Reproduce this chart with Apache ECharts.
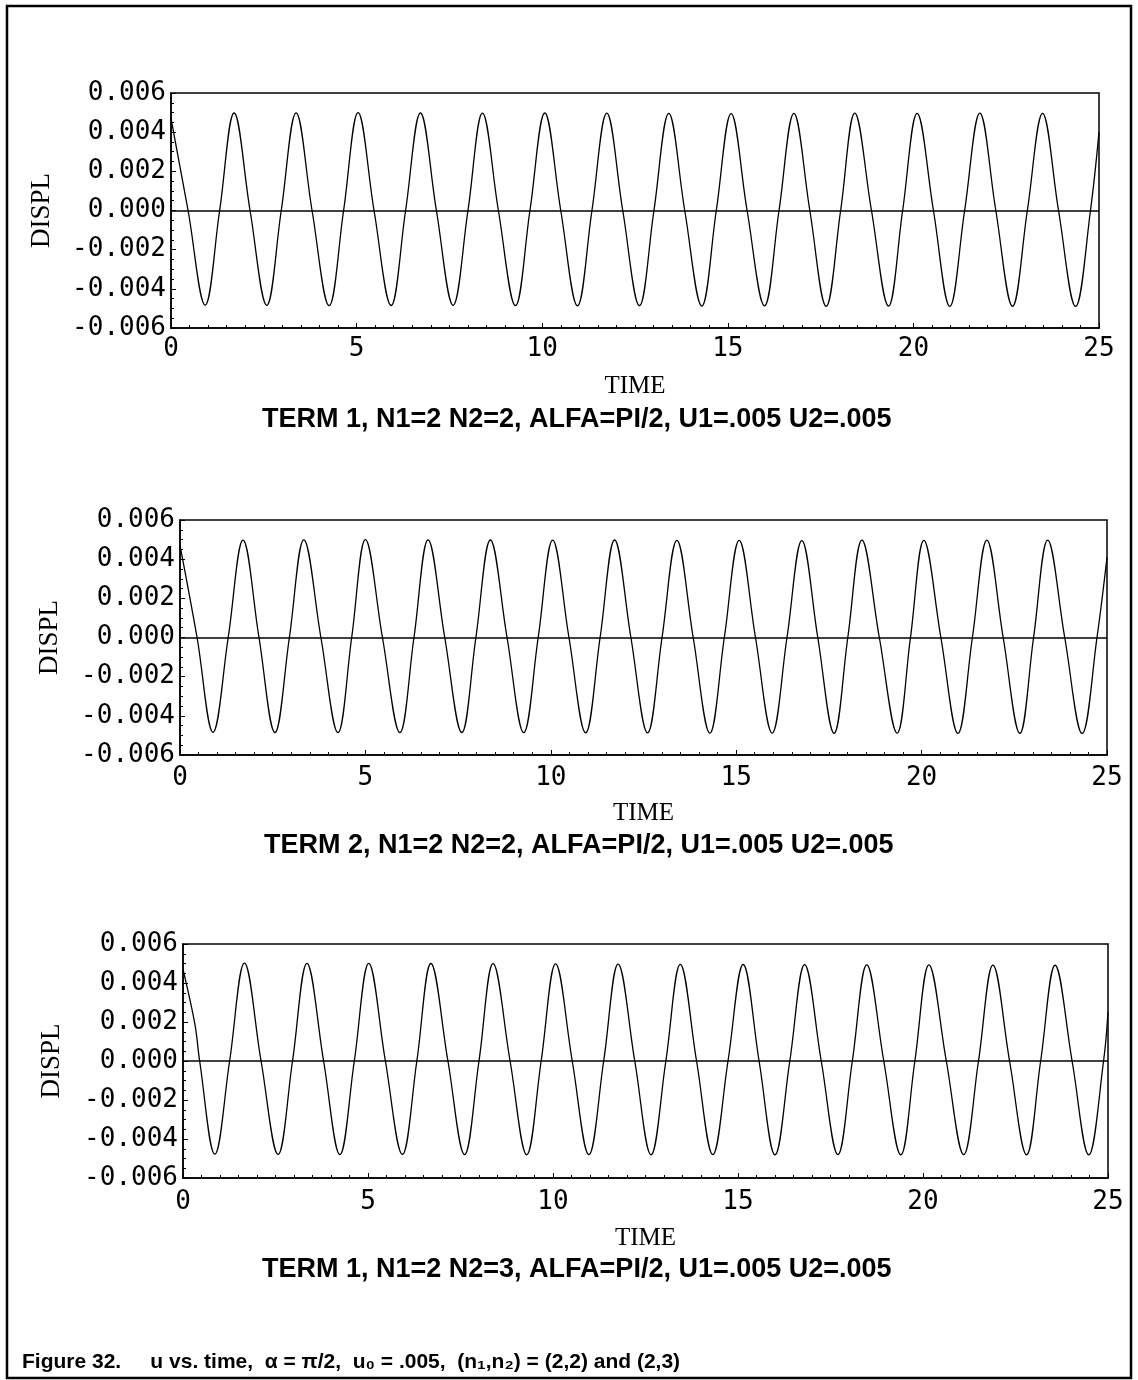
<!DOCTYPE html>
<html>
<head>
<meta charset="utf-8">
<script src="https://cdn.jsdelivr.net/npm/echarts@6/dist/echarts.min.js"></script>
<style>
  html, body { margin: 0; padding: 0; background: #fff; }
  #chart { width: 1138px; height: 1380px; }
</style>
</head>
<body>
<div id="chart"></div>
<script>
// ---------- tick labels ----------
const xTicks = [0, 5, 10, 15, 20, 25];
const yTicks = [-0.006, -0.004, -0.002, 0.000, 0.002, 0.004, 0.006];

// ---------- panel titles ----------
const panelTitles = [
  'TERM 1, N1=2 N2=2, ALFA=PI/2, U1=.005 U2=.005',
  'TERM 2, N1=2 N2=2, ALFA=PI/2, U1=.005 U2=.005',
  'TERM 1, N1=2 N2=3, ALFA=PI/2, U1=.005 U2=.005'
];
const caption = 'Figure 32.     u vs. time,  \u03b1 = \u03c0/2,  u\u2080 = .005,  (n\u2081,n\u2082) = (2,2) and (2,3)';

// ---------- panel 1 ----------
const p1Start = [0, 0.0047];
const p1End = [25, 0.0040];
const p1PeakT = [1.70, 3.37, 5.04, 6.72, 8.39, 10.07, 11.74, 13.41, 15.09, 16.78, 18.42, 20.10, 21.79, 23.48];
const p1PeakU = [0.00498, 0.00499, 0.00500, 0.00498, 0.00497, 0.00498, 0.00497, 0.00496, 0.00495, 0.00496, 0.00497, 0.00496, 0.00497, 0.00496];
const p1TroughT = [0.92, 2.58, 4.26, 5.93, 7.60, 9.28, 10.95, 12.62, 14.30, 15.99, 17.65, 19.33, 20.98, 22.67, 24.37];
const p1TroughU = [-0.00483, -0.00484, -0.00486, -0.00485, -0.00484, -0.00486, -0.00487, -0.00486, -0.00488, -0.00487, -0.00489, -0.00488, -0.00490, -0.00489, -0.00490];
const p1ZeroT = [0.46, 1.31, 2.13, 2.97, 3.80, 4.65, 5.47, 6.32, 7.15, 8.00, 8.82, 9.67, 10.50, 11.34, 12.17, 13.01, 13.84, 14.69, 15.52, 16.38, 17.21, 18.04, 18.87, 19.71, 20.54, 21.38, 22.22, 23.07, 23.91, 24.77];

// ---------- panel 2 ----------
const p2Start = [0, 0.0047];
const p2End = [25, 0.0041];
const p2PeakT = [1.70, 3.34, 5.00, 6.69, 8.37, 10.05, 11.72, 13.40, 15.08, 16.77, 18.39, 20.06, 21.76, 23.40];
const p2PeakU = [0.00497, 0.00499, 0.00500, 0.00499, 0.00498, 0.00497, 0.00498, 0.00496, 0.00496, 0.00495, 0.00497, 0.00496, 0.00497, 0.00497];
const p2TroughT = [0.89, 2.56, 4.26, 5.93, 7.60, 9.27, 10.94, 12.61, 14.29, 15.97, 17.64, 19.34, 20.98, 22.65, 24.33];
const p2TroughU = [-0.00484, -0.00485, -0.00486, -0.00486, -0.00485, -0.00486, -0.00487, -0.00487, -0.00488, -0.00488, -0.00489, -0.00488, -0.00490, -0.00489, -0.00490];
const p2ZeroT = [0.46, 1.30, 2.13, 2.95, 3.80, 4.63, 5.46, 6.31, 7.14, 7.98, 8.82, 9.66, 10.49, 11.33, 12.16, 13.00, 13.84, 14.68, 15.52, 16.37, 17.20, 18.01, 18.86, 19.70, 20.52, 21.37, 22.20, 23.02, 23.86, 24.73];

// ---------- panel 3 ----------
const p3Start = [0, 0.0047];
const p3Kink = [0.32, 0.0019];
const p3End = [25, 0.0025];
const p3PeakT = [1.66, 3.35, 5.02, 6.70, 8.38, 10.07, 11.76, 13.44, 15.14, 16.80, 18.48, 20.16, 21.89, 23.57];
const p3PeakU = [0.00502, 0.00501, 0.00501, 0.00500, 0.00499, 0.00498, 0.00497, 0.00496, 0.00495, 0.00494, 0.00493, 0.00493, 0.00492, 0.00491];
const p3TroughT = [0.86, 2.57, 4.24, 5.93, 7.61, 9.29, 10.97, 12.65, 14.32, 16.00, 17.70, 19.40, 21.10, 22.80, 24.48];
const p3TroughU = [-0.00478, -0.00479, -0.00480, -0.00479, -0.00480, -0.00481, -0.00480, -0.00481, -0.00480, -0.00481, -0.00480, -0.00481, -0.00480, -0.00481, -0.00481];
const p3ZeroT = [0.45, 1.26, 2.11, 2.96, 3.80, 4.63, 5.47, 6.32, 7.16, 8.00, 8.84, 9.68, 10.52, 11.37, 12.21, 13.05, 13.88, 14.73, 15.57, 16.40, 17.25, 18.09, 18.94, 19.78, 20.63, 21.50, 22.34, 23.18, 24.03, 24.88];

// ---------- build series data from the read points ----------
function build(start, end, peakT, peakU, troughT, troughU, zeroT, extra) {
  const pts = [start, end];
  peakT.forEach((t, i) => pts.push([t, peakU[i]]));
  troughT.forEach((t, i) => pts.push([t, troughU[i]]));
  zeroT.forEach(t => pts.push([t, 0]));
  (extra || []).forEach(p => pts.push(p));
  pts.sort((a, b) => a[0] - b[0]);
  return pts;
}
const data1 = build(p1Start, p1End, p1PeakT, p1PeakU, p1TroughT, p1TroughU, p1ZeroT);
const data2 = build(p2Start, p2End, p2PeakT, p2PeakU, p2TroughT, p2TroughU, p2ZeroT);
const data3 = build(p3Start, p3End, p3PeakT, p3PeakU, p3TroughT, p3TroughU, p3ZeroT, [p3Kink]);

// ---------- layout ----------
const grids = [
  { left: 171, top: 93, width: 928, height: 235 },
  { left: 180, top: 520, width: 927, height: 235 },
  { left: 183, top: 944, width: 925, height: 234 }
];
const xLabelMargin = [8, 10, 11];
const timeGap = [46, 46, 48];
const displGap = [116, 117, 118];
const titleTops = [406, 832, 1256];
const titleLefts = [262, 264, 262];

const monoFont = '"DejaVu Sans Mono", monospace';
const serifFont = '"Liberation Serif", "DejaVu Serif", serif';
const sansFont = '"Liberation Sans", Arial, sans-serif';

const option = {
  backgroundColor: '#ffffff',
  animation: false,
  title: panelTitles.map((t, i) => ({
    text: t,
    left: titleLefts[i],
    top: titleTops[i],
    padding: 0,
    textStyle: { fontFamily: sansFont, fontWeight: 'bold', fontSize: 27, color: '#000' }
  })).concat([{
    text: caption,
    left: 22,
    top: 1352,
    padding: 0,
    textStyle: { fontFamily: sansFont, fontWeight: 'bold', fontSize: 21, color: '#000' }
  }]),
  grid: grids.map(g => Object.assign({ show: true, borderColor: '#000', borderWidth: 1.5, backgroundColor: 'transparent' }, g)),
  xAxis: grids.map((g, i) => ({
    type: 'value',
    gridIndex: i,
    min: xTicks[0],
    max: xTicks[xTicks.length - 1],
    interval: xTicks[1] - xTicks[0],
    name: 'TIME',
    nameLocation: 'middle',
    nameGap: timeGap[i],
    nameTextStyle: { fontFamily: serifFont, fontSize: 25, color: '#000' },
    axisLine: { show: true, onZero: false, lineStyle: { color: '#000', width: 1.5 } },
    axisTick: { show: true, inside: true, length: 5, lineStyle: { color: '#000' } },
    minorTick: { show: true, splitNumber: 10, length: 3, lineStyle: { color: '#000' } },
    splitLine: { show: false },
    axisLabel: {
      margin: xLabelMargin[i],
      fontFamily: monoFont, fontSize: 26, color: '#000',
      formatter: v => String(v)
    }
  })),
  yAxis: grids.map((g, i) => ({
    type: 'value',
    gridIndex: i,
    min: yTicks[0],
    max: yTicks[yTicks.length - 1],
    interval: 0.002,
    name: 'DISPL',
    nameLocation: 'middle',
    nameRotate: 90,
    nameGap: displGap[i],
    nameTextStyle: { fontFamily: serifFont, fontSize: 27, color: '#000' },
    axisLine: { show: true, lineStyle: { color: '#000', width: 1.5 } },
    axisTick: { show: true, inside: true, length: 5, lineStyle: { color: '#000' } },
    minorTick: { show: true, splitNumber: 4, length: 3, lineStyle: { color: '#000' } },
    splitLine: { show: false },
    axisLabel: {
      margin: 5,
      fontFamily: monoFont, fontSize: 26, color: '#000',
      formatter: v => {
        const idx = yTicks.findIndex(t => Math.abs(t - v) < 1e-9);
        return idx >= 0 ? yTicks[idx].toFixed(3) : '';
      }
    }
  })),
  series: [data1, data2, data3].map((d, i) => ({
    type: 'line',
    xAxisIndex: i,
    yAxisIndex: i,
    data: d,
    showSymbol: false,
    smooth: 0.38,
    lineStyle: { color: '#000', width: 1.3 },
    markLine: {
      silent: true,
      symbol: ['none', 'none'],
      label: { show: false },
      lineStyle: { color: '#000', width: 1.5, type: 'solid' },
      data: [{ yAxis: 0 }]
    }
  })),
  graphic: [{
    type: 'rect',
    shape: { x: 7, y: 6, width: 1124, height: 1372 },
    style: { fill: 'none', stroke: '#000', lineWidth: 2.5 },
    silent: true
  }]
};

const chart = echarts.init(document.getElementById('chart'), null, { renderer: 'canvas' });
chart.setOption(option);
</script>
</body>
</html>
